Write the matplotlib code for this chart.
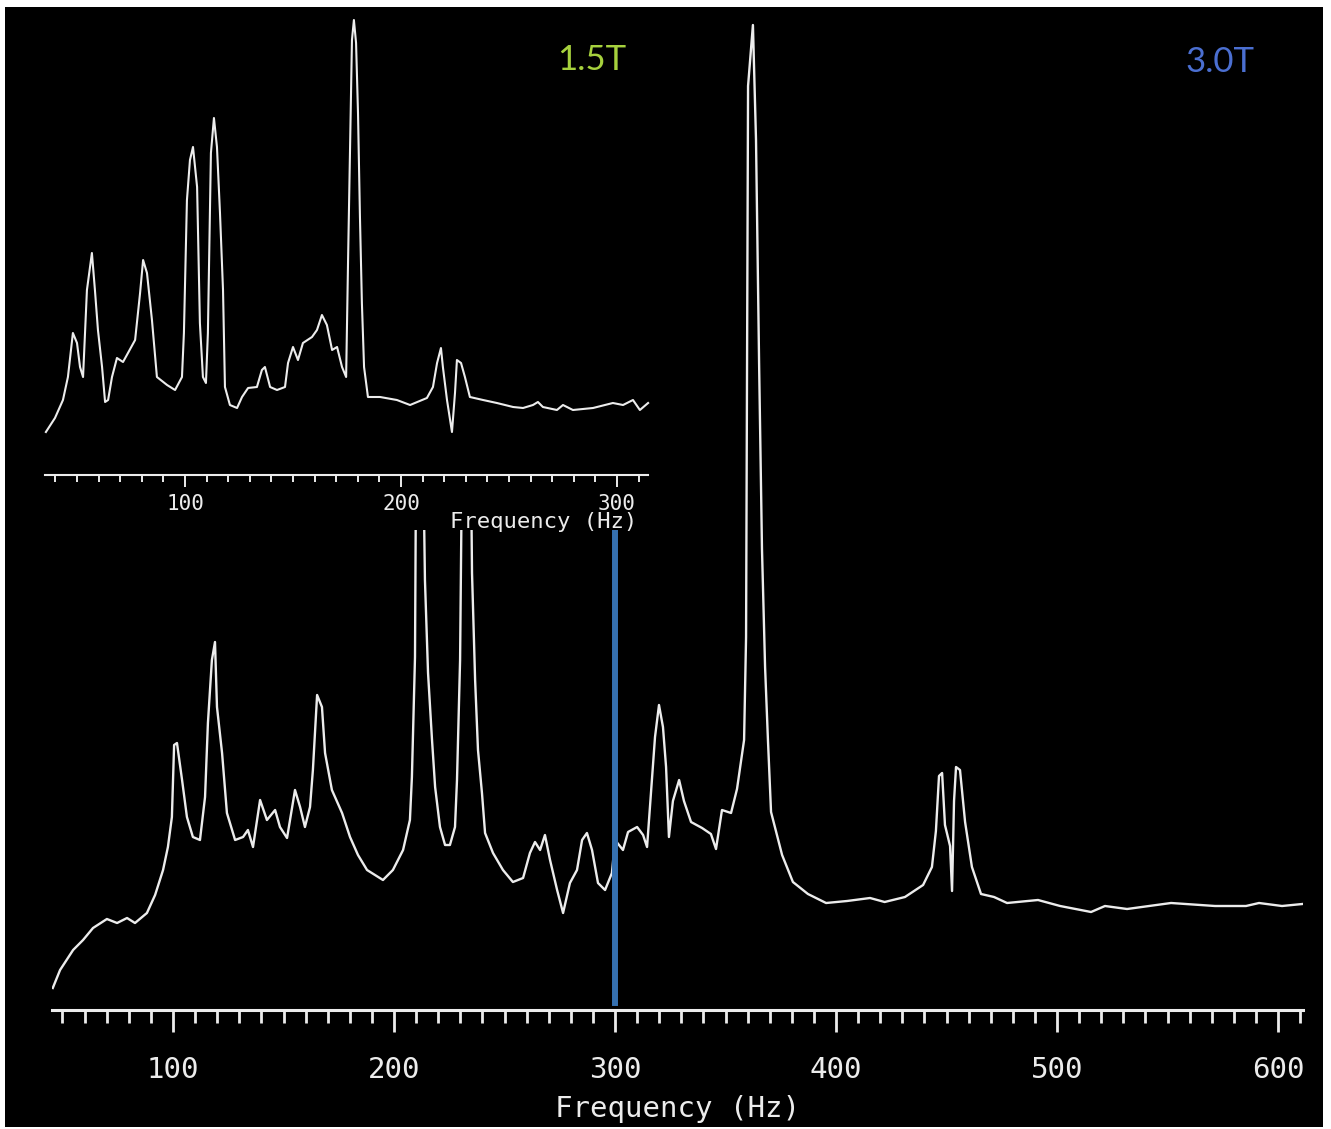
"""Spectral comparison: 3.0T spectrum with a 1.5T inset, IDL-style black panel."""
import matplotlib
matplotlib.use("Agg")
import matplotlib.pyplot as plt
from matplotlib.patches import Rectangle
from matplotlib.ticker import MultipleLocator

# 3.0T spectrum (main panel), frequency in Hz vs. arbitrary intensity
FREQ_3T = [45.6, 48.9, 54.8, 59.3, 63.8, 70.1, 74.7, 79.2, 82.8, 88.2,
           91.9, 95.5, 97.7, 99.5, 100.5, 101.8, 104.1, 106.3, 109.0, 112.2,
           114.5, 115.8, 117.6, 119.0, 119.9, 122.2, 124.4, 128.1, 131.7, 133.9,
           136.2, 139.4, 142.5, 146.2, 148.4, 151.6, 155.2, 157.5, 159.7, 162.0,
           163.3, 165.2, 167.4, 168.8, 171.9, 176.5, 180.1, 183.7, 187.8, 195.0,
           199.5, 204.1, 207.2, 208.1, 209.5, 210.0, 210.9, 212.2, 214.0, 215.4,
           217.2, 218.6, 220.8, 223.1, 225.3, 227.6, 228.5, 229.9, 230.8, 232.1,
           233.9, 235.3, 236.7, 238.0, 239.8, 241.2, 244.8, 249.3, 253.8, 258.4,
           261.5, 263.8, 266.1, 268.3, 270.6, 273.8, 276.5, 279.6, 282.8, 285.1,
           287.3, 289.6, 292.3, 295.5, 298.6, 300.0, 303.6, 305.9, 310.0, 312.7,
           314.5, 316.7, 318.1, 319.9, 321.7, 323.1, 324.4, 326.2, 329.0, 331.2,
           334.4, 339.4, 343.4, 345.7, 348.4, 352.5, 355.2, 358.4, 359.3, 360.2,
           362.4, 363.8, 365.2, 366.5, 367.9, 369.2, 370.6, 375.6, 380.5, 387.3,
           395.5, 405.0, 415.4, 422.0, 431.2, 439.4, 443.4, 445.2, 446.6, 448.0,
           449.3, 451.6, 452.5, 453.4, 454.3, 456.1, 458.4, 461.5, 465.6, 471.5,
           477.4, 491.4, 501.4, 515.4, 521.7, 531.7, 551.6, 571.5, 585.5, 591.4,
           601.8, 611.0]
AMP_3T = [2.2, 4.0, 6.0, 7.0, 8.2, 9.1, 8.7, 9.2, 8.7, 9.7,
          11.5, 14.0, 16.3, 19.3, 26.5, 26.7, 23.0, 19.3, 17.3, 17.0,
          21.3, 28.7, 35.0, 36.8, 30.3, 25.7, 19.7, 17.0, 17.3, 18.0,
          16.3, 21.0, 19.0, 20.0, 18.3, 17.2, 22.0, 20.3, 18.3, 20.3,
          24.0, 31.5, 30.3, 25.7, 22.0, 19.7, 17.3, 15.5, 14.0, 13.0,
          14.0, 16.0, 19.0, 23.3, 35.3, 56.0, 76.0, 71.0, 43.0, 33.7,
          27.0, 22.3, 18.3, 16.5, 16.5, 18.3, 23.0, 35.0, 56.0, 81.0,
          75.0, 43.7, 33.0, 26.0, 21.7, 17.7, 15.7, 14.0, 12.8, 13.2,
          15.7, 16.8, 16.0, 17.5, 15.0, 12.0, 9.7, 12.7, 14.0, 17.0,
          17.7, 16.0, 12.7, 12.0, 13.7, 17.0, 16.0, 17.8, 18.3, 17.5,
          16.3, 23.0, 27.3, 30.5, 28.3, 24.3, 17.3, 20.9, 23.0, 20.9,
          18.8, 18.2, 17.6, 16.1, 20.0, 19.7, 22.1, 27.0, 37.3, 92.4,
          98.5, 87.0, 64.6, 46.1, 34.3, 27.0, 19.8, 15.5, 12.8, 11.6,
          10.7, 10.9, 11.2, 10.8, 11.3, 12.5, 14.3, 17.9, 23.4, 23.7,
          18.5, 16.4, 11.9, 20.9, 24.3, 24.0, 18.8, 14.3, 11.6, 11.3,
          10.7, 11.0, 10.4, 9.8, 10.4, 10.1, 10.7, 10.4, 10.4, 10.7,
          10.4, 10.6]

# 1.5T spectrum (inset)
FREQ_15T = [35.6, 39.8, 43.5, 45.8, 48.1, 50.0, 51.4, 52.8, 54.6, 56.9,
            58.3, 59.7, 61.6, 63.0, 64.4, 66.2, 68.5, 71.3, 73.6, 76.9,
            79.2, 80.6, 82.4, 84.7, 87.0, 91.7, 95.4, 98.6, 99.5, 100.9,
            102.3, 103.7, 105.6, 106.9, 108.3, 109.7, 110.6, 112.0, 113.4, 114.8,
            116.2, 117.6, 118.5, 120.8, 124.1, 126.4, 129.2, 133.3, 135.6, 137.0,
            139.4, 142.6, 146.3, 147.7, 150.0, 152.3, 154.6, 158.8, 161.1, 163.4,
            165.7, 168.1, 170.4, 172.7, 174.6, 175.5, 177.3, 178.2, 179.2, 180.1,
            181.0, 181.9, 182.9, 184.7, 190.3, 198.1, 204.2, 212.0, 214.8, 216.7,
            218.5, 219.4, 221.3, 223.6, 225.0, 225.9, 227.8, 229.6, 231.9, 238.0,
            244.4, 251.9, 256.5, 261.1, 263.4, 265.7, 272.2, 275.0, 279.6, 288.9,
            298.1, 302.8, 307.4, 310.6, 314.4]
AMP_15T = [4.3, 5.7, 7.5, 9.8, 14.2, 13.2, 10.8, 9.8, 18.5, 22.2,
           18.5, 14.5, 10.8, 7.3, 7.5, 9.8, 11.7, 11.3, 12.2, 13.5,
           18.2, 21.5, 20.2, 15.5, 9.8, 9.0, 8.5, 9.8, 14.2, 27.5,
           31.5, 32.8, 28.8, 15.2, 9.8, 9.2, 14.2, 32.2, 35.7, 32.8,
           26.2, 18.5, 8.8, 7.0, 6.7, 7.8, 8.7, 8.8, 10.5, 10.8,
           8.8, 8.5, 8.8, 11.2, 12.8, 11.5, 13.2, 13.8, 14.5, 16.0,
           15.0, 12.5, 12.8, 10.8, 9.8, 21.5, 43.5, 45.5, 43.2, 36.2,
           25.8, 17.2, 10.8, 7.8, 7.8, 7.5, 7.0, 7.7, 8.8, 11.2,
           12.7, 10.8, 7.5, 4.3, 8.2, 11.5, 11.2, 9.8, 7.8, 7.5,
           7.2, 6.8, 6.7, 7.0, 7.3, 6.8, 6.5, 7.0, 6.5, 6.7,
           7.2, 7.0, 7.5, 6.5, 7.2]

MARKER_FREQ = 300  # blue cursor line on the 3.0T spectrum

W, H = 1331, 1129
LINE = "#ececec"
MONO = "DejaVu Sans Mono"


def fx(px):
    return px / W


def fy(py):
    return 1 - py / H


fig = plt.figure(figsize=(W / 100, H / 100), dpi=100, facecolor="white")
fig.patches.append(Rectangle((fx(5), fy(1127)), (1323 - 5) / W, (1127 - 7) / H,
                             transform=fig.transFigure, facecolor="black",
                             edgecolor="none", zorder=-10))

# ---- main 3.0T panel ----
ax = fig.add_axes([fx(52), fy(1010), (1303 - 52) / W, (1010 - 7) / H])
ax.set_facecolor("none")
ax.plot(FREQ_3T, AMP_3T, color=LINE, lw=1.7)
ax.axvline(MARKER_FREQ, ymin=7 / 1003, ymax=1, color="#3570b0", lw=4.3)
ax.set_xlim(45.25, 611.3)
ax.set_ylim(0, 100.3)
for s in ("left", "right", "top"):
    ax.spines[s].set_visible(False)
ax.spines["bottom"].set_color(LINE)
ax.spines["bottom"].set_linewidth(2.2)
ax.set_yticks([])
ax.xaxis.set_major_locator(MultipleLocator(100))
ax.xaxis.set_minor_locator(MultipleLocator(10))
ax.tick_params(axis="x", which="major", direction="out", length=16, width=2.0,
               color=LINE, labelcolor=LINE, labelsize=21, pad=17)
ax.tick_params(axis="x", which="minor", direction="out", length=9.5, width=2.0,
               color=LINE)
for lbl in ax.get_xticklabels():
    lbl.set_family(MONO)
ax.set_xlabel("Frequency (Hz)", color=LINE, fontsize=21, family=MONO)
ax.xaxis.set_label_coords(0.5, -0.085)

# ---- 1.5T inset ----
ins = fig.add_axes([fx(40), fy(530), (655 - 40) / W, (530 - 7) / H])
ins.set_facecolor("black")
ins.plot(FREQ_15T, AMP_15T, color=LINE, lw=1.5)
ins.set_xlim(32.87, 317.6)
ins.set_ylim(-5.5, 46.8)
for s in ("left", "right", "top"):
    ins.spines[s].set_visible(False)
ins.spines["bottom"].set_position(("data", 0))
ins.spines["bottom"].set_bounds(35.2, 314.4)
ins.spines["bottom"].set_color(LINE)
ins.spines["bottom"].set_linewidth(1.5)
ins.set_yticks([])
ins.xaxis.set_major_locator(MultipleLocator(100))
ins.xaxis.set_minor_locator(MultipleLocator(10))
ins.tick_params(axis="x", which="major", direction="out", length=8.5, width=1.4,
                color=LINE, labelcolor=LINE, labelsize=15, pad=5)
ins.tick_params(axis="x", which="minor", direction="out", length=5, width=1.4,
                color=LINE)
for lbl in ins.get_xticklabels():
    lbl.set_family(MONO)
ins.set_xlabel("Frequency (Hz)", color=LINE, fontsize=16, family=MONO)
ins.xaxis.set_label_coords((544 - 40) / 615, (530 - 512) / 523)

# field-strength labels
fig.text(fx(592), fy(60), "1.5T", color="#a6d13d", fontsize=25, family="Lato",
         ha="center", va="center")
fig.text(fx(1220), fy(62), "3.0T", color="#4b6fd1", fontsize=25, family="Lato",
         ha="center", va="center")

fig.savefig("out.png", dpi=100, facecolor=fig.get_facecolor())
